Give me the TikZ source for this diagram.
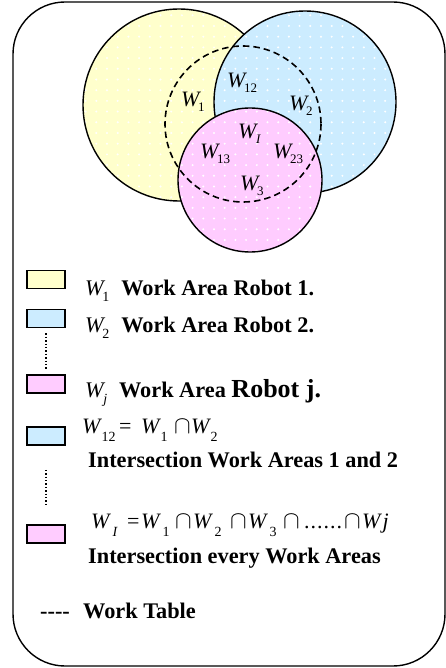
\documentclass[tikz,border=0pt]{standalone}
\usepackage{fontspec}
\setmainfont{Liberation Serif}
\usetikzlibrary{patterns.meta}
\definecolor{areaYellow}{HTML}{FFFFCC}
\definecolor{areaBlue}{HTML}{CCECFF}
\definecolor{areaPink}{HTML}{FFCCFF}
% italic W with a lowered upright index; optional argument = drop of the index
\newcommand\subsize{\fontsize{14}{14}\selectfont}
\newcommand\Ws[2][6pt]{{\normalfont\itshape W}\kern-1.5pt\raisebox{-#1}{\normalfont\subsize #2}}
% same, with the gap before the index given: \Wk{gap}{drop}{index}
\newcommand\Wk[3]{{\normalfont\itshape W}\kern#1\raisebox{-#2}{\normalfont\subsize #3}}
\newcommand\isect{\hbox{\fontsize{24}{24}\selectfont$\cap$}}
% one piece of a formula in a slot of fixed width
\newcommand\slot[2]{\makebox[#1][l]{#2}}

\begin{document}
\begin{tikzpicture}[x=1pt,y=-1pt,
  outerframe/.style={draw, line width=1.4pt, rounded corners=52pt},
  workarea/.style={preaction={fill=#1}, pattern={Dots[distance=10.7pt,radius=1.1pt]},
    pattern color=white, draw, line width=1.4pt},
  worktable/.style={draw, dash pattern=on 6.5pt off 4pt, line width=1.6pt},
  lbl/.style={inner sep=0pt, anchor=base west, font=\fontsize{22}{26}\selectfont},
  txt/.style={inner sep=0pt, anchor=base west, font=\fontsize{22.3}{26}\selectfont\bfseries},
  keybox/.style={draw, line width=1.6pt, minimum width=38pt, minimum height=18pt,
    inner sep=0pt, fill=#1},
  gapdots/.style={dotted, line width=1.4pt}]

\useasboundingbox (0,0) rectangle (446,668);

% outer frame
\draw[outerframe] (13,2) rectangle (445,666);

% robot work areas
\path[workarea=areaYellow] (179,105) circle (96);
\path[workarea=areaBlue]   (305,102) circle (91);
\path[workarea=areaPink]   (250,180) circle (72);

% work table
\draw[worktable] (243,124) circle (78);

% area labels
\begin{scope}[nodes={lbl}]
\renewcommand\subsize{\fontsize{13}{13}\selectfont}
\node (w1)  at (181,107) {\Ws[5pt]{1}};
\node (w12) at (227,88)  {\Ws[5pt]{12}};
\node (w2)  at (289,111) {\Ws[5pt]{2}};
\node (wI)  at (238,139) {\Ws[5pt]{\kern1pt\itshape I}};
\node (w13) at (200,159) {\Ws[5pt]{13}};
\node (w23) at (273,159) {\Ws[5pt]{23}};
\node (w3)  at (240,191) {\Ws[5pt]{3}};
\end{scope}

% legend
\node[keybox=areaYellow] (k1) at (46,279.5) {};
\node[txt] (t1) at (85,295) {\Ws{1}\hspace{12pt}Work Area Robot 1.};

\node[keybox=areaBlue] (k2) at (46,318.5) {};
\node[txt] (t2) at (85,332) {\Ws{2}\hspace{12pt}Work Area Robot 2.};

\node[keybox=areaPink] (k3) at (46,384) {};
\node[txt] (t3) at (85,397) {\Ws{\kern1pt\itshape j}\hspace{12pt}Work Area {\fontsize{26}{30}\selectfont Robot j.}};

\draw[gapdots, shorten <=5pt, shorten >=5pt] (k2.south) -- (k3.north);

\node[keybox=areaBlue] (k4) at (46,436) {};
\node[lbl] (f4) at (82,433) {\slot{37pt}{\Wk{1pt}{8pt}{12}}\slot{22pt}{=}\slot{33pt}{\Wk{1pt}{8pt}{1}}\slot{17pt}{\isect}\Wk{1pt}{8pt}{2}};
\node[txt] (t4) at (88,467) {Intersection Work Areas 1 and 2};

\node[keybox=areaPink] (k5) at (46,534) {};
\node[lbl] (f5) at (91,528) {\slot{36pt}{\Wk{3pt}{8pt}{\itshape I}}\slot{14pt}{=}\slot{34pt}{\Wk{3pt}{8pt}{1}}\slot{18pt}{\isect}\slot{37pt}{\Wk{3pt}{8pt}{2}}\slot{18pt}{\isect}\slot{35pt}{\Wk{3pt}{8pt}{3}}\slot{21pt}{\isect}\slot{40pt}{.\kern1pt.\kern1pt.\kern1pt.\kern1pt.\kern1pt.}\slot{18pt}{\isect}\textit{W\kern2pt j}};
\node[txt] (t5) at (88,563) {Intersection every Work Areas};

\draw[gapdots, shorten <=24pt, shorten >=20pt] (k4.south) -- (k5.north);

\node[txt] (dash) at (40,618) {-{}-{}-{}-};
\node[txt] (wt) at (83,618) {Work Table};

\end{tikzpicture}
\end{document}
